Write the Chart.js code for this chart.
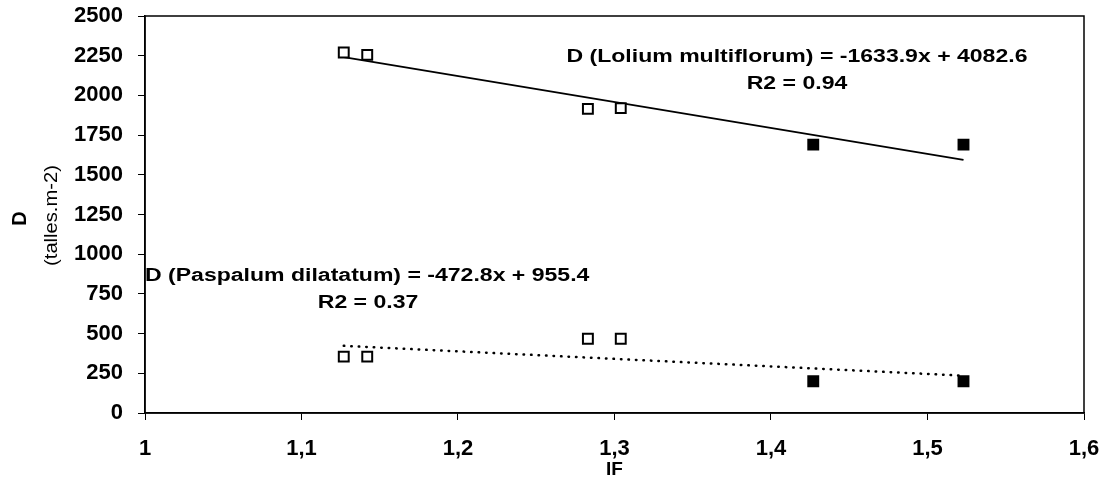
<!DOCTYPE html>
<html>
<head>
<meta charset="utf-8">
<script src="https://cdn.jsdelivr.net/npm/chart.js@4.4.1/dist/chart.umd.min.js"></script>
<style>
  html, body { margin: 0; padding: 0; background: #fff; }
  #box { width: 1107px; height: 483px; }
</style>
</head>
<body>
<div id="box"><canvas id="grafico"></canvas></div>
<script>
// valores
const iF = [1.127, 1.142, 1.283, 1.304, 1.427, 1.523];
const lolium = [2270, 2255, 1915, 1920, 1690, 1690];
const paspalum = [355, 355, 468, 468, 200, 200];
const nAbertos = 4; // os 4 primeiros pontos são quadrados vazios

// extremos das retas de tendência
const tendX = [1.127, 1.523];
const tendLolium = [2241, 1594];
const tendPaspalum = [423, 235];

const eqLolium = ['D (Lolium multiflorum) = -1633.9x + 4082.6', 'R2 = 0.94'];
const eqPaspalum = ['D (Paspalum dilatatum) = -472.8x + 955.4', 'R2 = 0.37'];

const xTicks = [1, 1.1, 1.2, 1.3, 1.4, 1.5, 1.6];

function pontos(xs, ys) {
    return xs.map((x, i) => ({ x: x, y: ys[i] }));
}

const FONTE = '"Liberation Sans", Arial, sans-serif';

// texto um pouco esticado na horizontal, como no original
function texto(ctx, str, x, y, align, esticar) {
    ctx.save();
    ctx.translate(x, y);
    ctx.scale(esticar, 1);
    ctx.textAlign = align;
    ctx.fillText(str, 0, 0);
    ctx.restore();
}

// textos das equações, título do eixo y e moldura
const extras = {
    id: 'extras',
    afterDraw(chart) {
        const ctx = chart.ctx;
        const sx = chart.scales.x, sy = chart.scales.y;
        const a = chart.chartArea;
        ctx.save();
        ctx.strokeStyle = '#000';
        ctx.lineWidth = 1.5;
        ctx.strokeRect(a.left, a.top, a.right - a.left, a.bottom - a.top);

        ctx.fillStyle = '#000';
        ctx.textBaseline = 'middle';
        ctx.font = 'bold 18px ' + FONTE;
        texto(ctx, eqLolium[0], sx.getPixelForValue(1.4166), sy.getPixelForValue(2242), 'center', 1.28);
        texto(ctx, eqLolium[1], sx.getPixelForValue(1.4166), sy.getPixelForValue(2072), 'center', 1.28);
        texto(ctx, eqPaspalum[0], sx.getPixelForValue(1.0), sy.getPixelForValue(863), 'left', 1.28);
        texto(ctx, eqPaspalum[1], sx.getPixelForValue(1.1425), sy.getPixelForValue(693), 'center', 1.28);

        // título do eixo y
        const cy = (a.top + a.bottom) / 2;
        ctx.translate(20, cy + 4);
        ctx.rotate(-Math.PI / 2);
        ctx.textAlign = 'center';
        ctx.font = 'bold 20px ' + FONTE;
        ctx.fillText('D', 0, 0);
        ctx.font = '18px ' + FONTE;
        texto(ctx, '(talles.m-2)', 3, 32, 'center', 1.12);
        ctx.restore();
    }
};

const ctxG = document.getElementById('grafico').getContext('2d');
const grafico = new Chart(ctxG, {
    type: 'scatter',
    data: {
        datasets: [
            {
                label: 'Lolium',
                data: pontos(iF, lolium),
                pointStyle: 'rect',
                pointRadius: 7,
                pointBorderWidth: 2,
                borderColor: '#000',
                backgroundColor: c => c.dataIndex < nAbertos ? '#fff' : '#000'
            },
            {
                label: 'Paspalum',
                data: pontos(iF, paspalum),
                pointStyle: 'rect',
                pointRadius: 7,
                pointBorderWidth: 2,
                borderColor: '#000',
                backgroundColor: c => c.dataIndex < nAbertos ? '#fff' : '#000'
            },
            {
                label: 'tend Lolium',
                type: 'line',
                data: pontos(tendX, tendLolium),
                borderColor: '#000',
                borderWidth: 2,
                pointRadius: 0
            },
            {
                label: 'tend Paspalum',
                type: 'line',
                data: pontos(tendX, tendPaspalum),
                borderColor: '#000',
                borderWidth: 2.5,
                borderDash: [0.5, 7],
                borderCapStyle: 'round',
                pointRadius: 0
            }
        ]
    },
    options: {
        responsive: true,
        maintainAspectRatio: false,
        animation: false,
        layout: { padding: { top: 16, right: 23, left: 0, bottom: 0 } },
        plugins: {
            legend: { display: false },
            tooltip: { enabled: false }
        },
        scales: {
            x: {
                type: 'linear',
                min: 1,
                max: 1.6,
                afterBuildTicks: s => { s.ticks = xTicks.map(v => ({ value: v })); },
                afterFit: s => {
                    s.height = 70;
                    s.paddingLeft = 0;
                    s.paddingRight = 0;
                },
                border: { display: true, color: '#000', width: 1.5 },
                grid: { drawOnChartArea: false, drawTicks: true, tickLength: 7, color: '#000' },
                ticks: {
                    color: '#000',
                    padding: 16,
                    maxRotation: 0,
                    font: { family: FONTE, size: 22, weight: 'bold' },
                    callback: v => String(v).replace('.', ',')
                },
                title: {
                    display: true,
                    text: 'IF',
                    color: '#000',
                    font: { family: FONTE, size: 19, weight: 'bold' },
                    padding: { top: 0, bottom: 2 }
                }
            },
            y: {
                min: 0,
                max: 2500,
                afterFit: s => {
                    s.width = 145;
                    s.paddingTop = 0;
                    s.paddingBottom = 0;
                },
                border: { display: true, color: '#000', width: 1.5 },
                grid: { drawOnChartArea: false, drawTicks: true, tickLength: 7, color: '#000' },
                ticks: {
                    stepSize: 250,
                    color: '#000',
                    padding: 15,
                    font: { family: FONTE, size: 22, weight: 'bold' },
                    callback: v => String(v)
                }
            }
        }
    },
    plugins: [extras]
});
</script>
</body>
</html>
